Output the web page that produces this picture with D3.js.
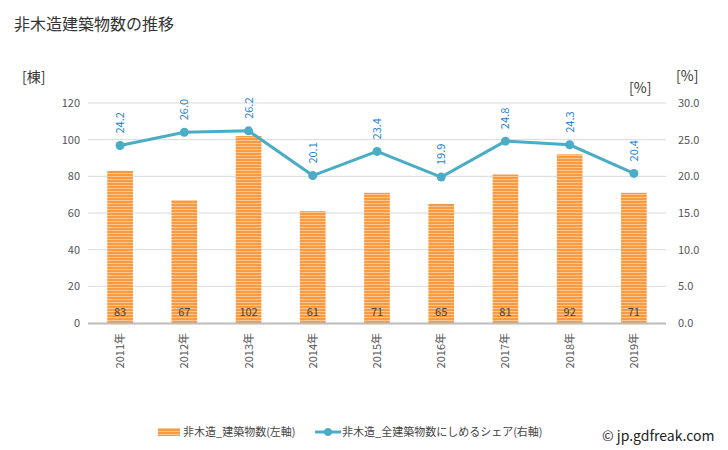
<!DOCTYPE html>
<html><head><meta charset="utf-8">
<script src="https://cdn.jsdelivr.net/npm/d3@7"></script>
<style>body{margin:0;background:#fff;font-family:"Noto Sans CJK JP","Noto Sans",sans-serif;}</style>
</head><body><svg id="c" width="728" height="450"></svg>
<script>
const categories = ["2011年","2012年","2013年","2014年","2015年","2016年","2017年","2018年","2019年"];
const buildings = [83,67,102,61,71,65,81,92,71];
const share = [24.2,26.0,26.2,20.1,23.4,19.9,24.8,24.3,20.4];
const leftTicks = [0,20,40,60,80,100,120];
const rightTicks = [0,5,10,15,20,25,30];

const svg = d3.select("#c");
const font = '"Noto Sans CJK JP","Noto Sans",sans-serif';
const defs = svg.append("defs");
const pat = defs.append("pattern").attr("id","stripe").attr("patternUnits","userSpaceOnUse").attr("width",4).attr("height",3);
pat.append("rect").attr("width",4).attr("height",3).attr("fill","#fcc692");
pat.append("rect").attr("width",4).attr("height",2).attr("fill","#f89a40");

const x = d3.scaleBand().domain(categories).range([88,666]).paddingInner(0.6).paddingOuter(0.3);
const yL = d3.scaleLinear().domain([0,120]).range([323,103]);
const yR = d3.scaleLinear().domain([0,30]).range([323,103]);

svg.append("text").attr("x",14).attr("y",30).attr("font-size",16).attr("fill","#333").attr("font-family",font).text("非木造建築物数の推移");

// gridlines
svg.append("g").selectAll("line").data(leftTicks.slice(1)).join("line")
  .attr("x1",88).attr("x2",666).attr("y1",d=>yL(d)).attr("y2",d=>yL(d))
  .attr("stroke","#d9d9d9").attr("stroke-width",1);

// left axis
const gl = svg.append("g").attr("transform","translate(80,0)")
  .call(d3.axisLeft(yL).tickValues(leftTicks).tickSize(0).tickPadding(0));
gl.select(".domain").remove();
gl.selectAll("text").attr("font-size",11).attr("fill","#555").attr("font-family",font);

const gr = svg.append("g").attr("transform","translate(678,0)")
  .call(d3.axisRight(yR).tickValues(rightTicks).tickFormat(d3.format(".1f")).tickSize(0).tickPadding(0));
gr.select(".domain").remove();
gr.selectAll("text").attr("font-size",11).attr("fill","#555").attr("font-family",font);

svg.append("text").attr("x",22).attr("y",82).attr("font-size",14).attr("fill","#333").attr("font-family",font).text("[棟]");
svg.append("text").attr("x",629).attr("y",93).attr("font-size",14).attr("fill","#333").attr("font-family",font).text("[%]");
svg.append("text").attr("x",676).attr("y",81).attr("font-size",14).attr("fill","#333").attr("font-family",font).text("[%]");

// bars
svg.append("g").selectAll("rect").data(buildings).join("rect")
  .attr("x",(d,i)=>x(categories[i])).attr("width",x.bandwidth())
  .attr("y",d=>yL(d)).attr("height",d=>yL(0)-yL(d)).attr("fill","url(#stripe)");

svg.append("g").selectAll("text").data(buildings).join("text")
  .attr("x",(d,i)=>x(categories[i])+x.bandwidth()/2).attr("y",316)
  .attr("text-anchor","middle").attr("font-size",11).attr("fill","#444").attr("font-family",font).text(d=>d);

// baseline
svg.append("line").attr("x1",88).attr("x2",666).attr("y1",323.5).attr("y2",323.5).attr("stroke","#bbb").attr("stroke-width",2);

// x labels
svg.append("g").selectAll("text").data(categories).join("text")
  .attr("transform",d=>`translate(${x(d)+x.bandwidth()/2+4},333) rotate(-90)`)
  .attr("text-anchor","end").attr("font-size",11).attr("fill","#555").attr("font-family",font).text(d=>d);

// line
const cx = (d,i)=>x(categories[i])+x.bandwidth()/2;
svg.append("path").datum(share).attr("fill","none").attr("stroke","#4bacc6").attr("stroke-width",3)
  .attr("d",d3.line().x(cx).y(d=>yR(d)));
svg.append("g").selectAll("circle").data(share).join("circle")
  .attr("cx",cx).attr("cy",d=>yR(d)).attr("r",4.5).attr("fill","#4bacc6");
svg.append("g").selectAll("text").data(share).join("text")
  .attr("transform",(d,i)=>`translate(${cx(d,i)+4},${yR(d)-12}) rotate(-90)`)
  .attr("font-size",11).attr("fill","#2a7fd0").attr("font-family",font).text(d=>d.toFixed(1));

// legend
svg.append("rect").attr("x",158).attr("y",428).attr("width",22).attr("height",8).attr("fill","url(#stripe)");
svg.append("text").attr("x",183).attr("y",436).attr("font-size",11).attr("fill","#444").attr("font-family",font).text("非木造_建築物数(左軸)");
svg.append("line").attr("x1",315).attr("x2",341).attr("y1",432).attr("y2",432).attr("stroke","#4bacc6").attr("stroke-width",3);
svg.append("circle").attr("cx",328).attr("cy",432).attr("r",4).attr("fill","#4bacc6");
svg.append("text").attr("x",342).attr("y",436).attr("font-size",11).attr("fill","#444").attr("font-family",font).text("非木造_全建築物数にしめるシェア(右軸)");
svg.append("text").attr("x",602).attr("y",441).attr("font-size",14).attr("fill","#222").attr("font-family",font).text("© jp.gdfreak.com");
</script></body></html>
